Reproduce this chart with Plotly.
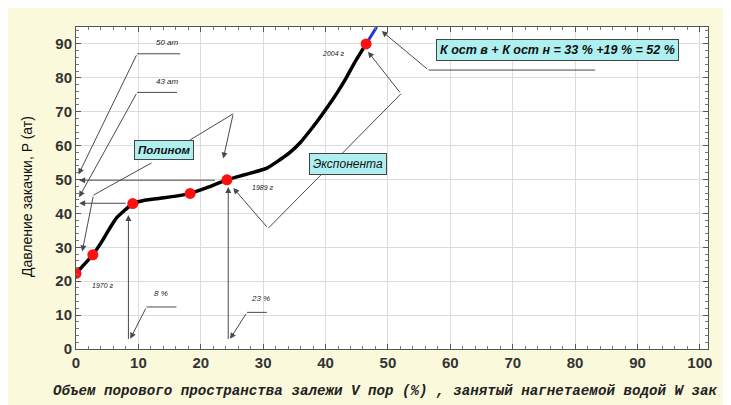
import plotly.graph_objects as go

# ---- data ----
curve_x = [0, 1, 2.7, 4, 5.4, 6.5, 7.6, 9.1, 11, 13.5, 16, 18.3, 21, 24.2, 27, 30.5,
           32.5, 34.3, 36, 37.5, 39, 40.7, 42, 43.1, 44.5, 46.5]
curve_y = [22.3, 24.3, 27.8, 31.3, 35.6, 38.7, 40.6, 42.9, 43.9, 44.5, 45.1, 45.9, 47.6, 49.9, 51.4, 53.3,
           55.6, 58, 61, 64.4, 68, 72.4, 76, 79.3, 84, 90]
points_x = [0, 2.7, 9.1, 18.3, 24.2, 46.5]
points_y = [22.3, 27.8, 42.9, 45.9, 49.9, 90]
blue_x = [46.5, 48.2]
blue_y = [90, 95]
x_ticks = [0, 10, 20, 30, 40, 50, 60, 70, 80, 90, 100]
y_ticks = [0, 10, 20, 30, 40, 50, 60, 70, 80, 90]

x_title = "Объем порового пространства залежи V пор (%) , занятый нагнетаемой водой W зак"
y_title = "Давление закачки, P (ат)"
box_formula = "К ост в + К ост н = 33 % +19 % = 52 %"
box_poly = "Полином"
box_exp = "Экспонента"

LC = "#4a4a4a"

fig = go.Figure()
fig.add_trace(go.Scatter(x=curve_x, y=curve_y, mode="lines",
                         line=dict(color="black", width=3.5, shape="spline", smoothing=0.6),
                         hoverinfo="skip", showlegend=False))
fig.add_trace(go.Scatter(x=blue_x, y=blue_y, mode="lines",
                         line=dict(color="#2233ee", width=3), showlegend=False))
fig.add_trace(go.Scatter(x=points_x, y=points_y, mode="markers",
                         marker=dict(color="#ff1010", size=11), showlegend=False))

shapes = []
def seg(x0, y0, x1, y1):
    shapes.append(dict(type="line", xref="x", yref="y", x0=x0, y0=y0, x1=x1, y1=y1,
                       line=dict(color=LC, width=1)))

annotations = []
def arrow(xt, yt, xs, ys):
    annotations.append(dict(x=xt, y=yt, ax=xs, ay=ys, xref="x", yref="y", axref="x", ayref="y",
                            text="", showarrow=True, arrowhead=2, arrowsize=1.2, arrowwidth=1,
                            arrowcolor=LC))
def label(x, y, t, size=8):
    annotations.append(dict(x=x, y=y, xref="x", yref="y", text=t, showarrow=False,
                            font=dict(family="Liberation Sans", size=size, color="#222")))

# 50 at / 43 at leaders
seg(9.8, 87.1, 16.7, 87.1); arrow(0.4, 51.5, 9.8, 87.1); label(14.6, 90.3, "<i>50 ат</i>")
seg(9.8, 75.7, 16.2, 75.7); arrow(0.5, 44.8, 9.8, 75.7); label(14.6, 79, "<i>43 ат</i>")
# horizontal arrows to axis
arrow(0.5, 49.8, 22.5, 49.8)
arrow(0.5, 43.0, 8.2, 43.0)
# vertical arrows up from bottom
arrow(8.4, 39.5, 8.4, 2.5)
arrow(24.4, 47.8, 24.4, 2.5)
# 8 % and 23 % leaders
seg(11.3, 12.4, 16.1, 12.4); arrow(8.7, 3, 11.3, 12.4); label(13.7, 16.5, "<i>8 %</i>")
seg(27.4, 10.8, 30.6, 10.8); arrow(24.7, 3, 27.4, 10.8); label(29.6, 15.0, "<i>23 %</i>")
# Полином leaders
seg(18.3, 61.7, 25.2, 69.4); arrow(23.6, 56.2, 25.2, 69.4)
seg(12.1, 54.9, 2.8, 45.4); arrow(1.0, 28.8, 2.8, 45.4)
# Экспонента leaders
seg(52.1, 75.3, 30.8, 35.6); arrow(25.2, 47.5, 30.8, 35.6); arrow(46.8, 87.7, 52.1, 75.3)
# formula leader
seg(56.5, 82.3, 83.2, 82.3); arrow(49.0, 93.8, 56.5, 82.3)
# year labels
label(4.4, 18.8, "<i>1970 г</i>", 7)
label(30.0, 47.6, "<i>1989 г</i>", 7)
label(41.2, 87.3, "<i>2004 г</i>", 7)

# boxes
def box(x, y, t, size=10, bold=True):
    txt = "<b><i>" + t + "</i></b>" if bold else "<i>" + t + "</i>"
    annotations.append(dict(x=x, y=y, xref="x", yref="y", text=txt,
                            showarrow=False, bgcolor="#aef0f0", bordercolor="#444", borderwidth=1,
                            borderpad=3, font=dict(family="Liberation Sans", size=size, color="#111")))
box(14.1, 58.6, box_poly, 11.5)
box(43.6, 54.7, box_exp, 12, bold=False)
box(77.2, 88.3, box_formula, 12.5)

# axis titles
annotations.append(dict(x=0.4905, y=-0.130, xref="paper", yref="paper", xanchor="center", yanchor="middle",
                        text="<b><i>" + x_title + "</i></b>", showarrow=False,
                        font=dict(family="Liberation Mono", size=14.2, color="#222")))
annotations.append(dict(x=-0.0775, y=0.472, xref="paper", yref="paper", xanchor="center", yanchor="middle",
                        text=y_title, textangle=-90, showarrow=False,
                        font=dict(family="Liberation Sans", size=14, color="#111")))

axis_common = dict(showgrid=True, gridcolor="#dcdcdc", gridwidth=1, zeroline=False,
                   showline=True, linecolor="#555", linewidth=1, mirror="allticks",
                   ticks="inside", ticklen=5, tickcolor="#555",
                   minor=dict(ticks="inside", ticklen=3, tickcolor="#777", showgrid=False),
                   tickfont=dict(family="Liberation Sans", size=15, color="#333", weight="bold"))

# page body has an 8px margin, so the figure is sized to fit the 731x405 window
fig.update_layout(
    width=723, height=397,
    margin=dict(l=68, r=23, t=19, b=56),
    paper_bgcolor="#fbf9dc", plot_bgcolor="white",
    xaxis=dict(range=[0, 101.3], tickvals=x_ticks, minor_dtick=2, **axis_common),
    yaxis=dict(range=[0, 95], tickvals=y_ticks, minor_dtick=2, **axis_common),
    shapes=shapes, annotations=annotations, showlegend=False,
)
fig.write_html("out.html")
